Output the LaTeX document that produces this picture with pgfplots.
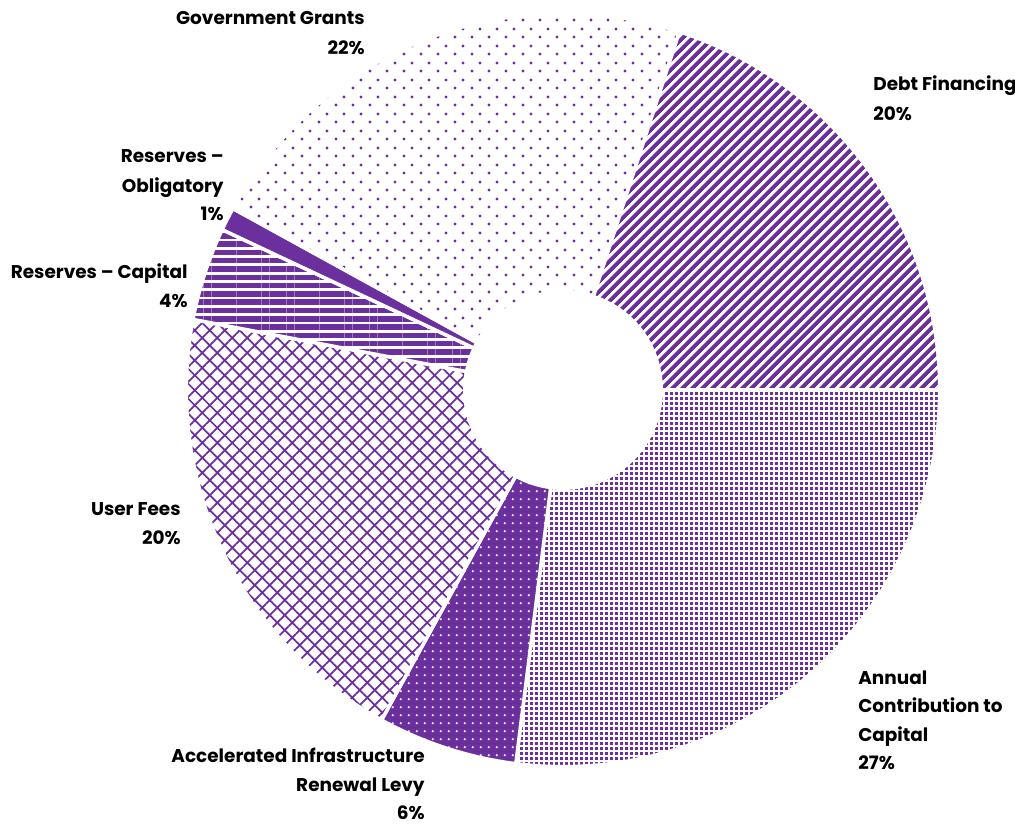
\documentclass[border=0pt]{standalone}
\usepackage{pgfplots}
\pgfplotsset{compat=1.18}
\usepackage{pgfplotstable}
\usetikzlibrary{patterns.meta}
\usepackage{fontspec}
\setmainfont{Poppins}
\definecolor{mypurple}{RGB}{108,48,158}

\tikzdeclarepattern{
  name=gdots, type=uncolored,
  bounding box={(0,0) and (0.33cm,0.33cm)},
  tile size={(0.33cm,0.33cm)},
  code={
    \fill (0.0825cm,0.0825cm) circle[radius=0.034cm];
    \fill (0.2475cm,0.2475cm) circle[radius=0.034cm];
  }
}
\tikzdeclarepattern{
  name=adots, type=uncolored,
  bounding box={(0,0) and (0.1cm,0.1cm)},
  tile size={(0.1cm,0.1cm)},
  code={
    \fill (0.024cm,0.024cm) rectangle (0.076cm,0.076cm);
  }
}
\tikzdeclarepattern{
  name=wdots, type=uncolored,
  bounding box={(0,0) and (0.166cm,0.166cm)},
  tile size={(0.166cm,0.166cm)},
  code={
    \fill (0.083cm,0.083cm) circle[radius=0.026cm];
  }
}

\pgfplotstableread{
label value
Annual 27
Accelerated 6
UserFees 20
ResCapital 4
ResOblig 1
Gov 22
Debt 20
}\slices

\tikzset{
  slice0/.style={pattern=adots, pattern color=mypurple},
  slice1/.style={fill=mypurple, postaction={pattern=wdots, pattern color=white}},
  slice2/.style={pattern={Hatch[angle=45,distance=0.212cm,line width=0.035cm]}, pattern color=mypurple},
  slice3/.style={pattern={Lines[angle=0,distance=0.166cm,line width=0.11cm]}, pattern color=mypurple},
  slice4/.style={fill=mypurple},
  slice5/.style={pattern=gdots, pattern color=mypurple},
  slice6/.style={pattern={Lines[angle=45,distance=0.14cm,line width=0.08cm]}, pattern color=mypurple},
  lab/.style={font=\fontsize{10.5}{12}\selectfont\bfseries, inner sep=0pt, text=black},
}

\begin{document}
\begin{tikzpicture}
\begin{axis}[x=0.02cm, y=0.02cm, xmin=-563, xmax=452, ymin=-435, ymax=390,
  hide axis, clip=false, scale only axis]
\coordinate (BL) at (axis cs:-563,-435);
\coordinate (TR) at (axis cs:452,390);
\def\cum{0}
\pgfplotsforeachungrouped \i in {0,...,6}{%
  \pgfplotstablegetelem{\i}{value}\of\slices
  \pgfmathsetmacro\aone{-3.6*\cum}%
  \pgfmathsetmacro\cum{\cum+\pgfplotsretval}%
  \pgfmathsetmacro\atwo{-3.6*\cum}%
  \edef\doit{\noexpand\path[slice\i, draw=white, line width=0.07cm]
    ([shift={(\aone:7.535cm)}]axis cs:0,0) arc[start angle=\aone, end angle=\atwo, radius=7.535cm]
    -- ([shift={(\atwo:1.965cm)}]axis cs:0,0) arc[start angle=\atwo, end angle=\aone, radius=1.965cm] -- cycle;}%
  \doit
}
% labels
\node[lab, anchor=base east] at (axis cs:-198,365) {Government Grants};
\node[lab, anchor=base east] at (axis cs:-198,335) {22\%};
\node[lab, anchor=base west] at (axis cs:310,299) {Debt Financing};
\node[lab, anchor=base west] at (axis cs:310,269) {20\%};
\node[lab, anchor=base east] at (axis cs:-339,227) {Reserves –};
\node[lab, anchor=base east] at (axis cs:-339,197) {Obligatory};
\node[lab, anchor=base east] at (axis cs:-339,169) {1\%};
\node[lab, anchor=base east] at (axis cs:-375,111) {Reserves – Capital};
\node[lab, anchor=base east] at (axis cs:-375,82) {4\%};
\node[lab, anchor=base east] at (axis cs:-382,-126) {User Fees};
\node[lab, anchor=base east] at (axis cs:-382,-155) {20\%};
\node[lab, anchor=base east] at (axis cs:-138,-373) {Accelerated Infrastructure};
\node[lab, anchor=base east] at (axis cs:-138,-402) {Renewal Levy};
\node[lab, anchor=base east] at (axis cs:-138,-430) {6\%};
\node[lab, anchor=base west] at (axis cs:295,-295) {Annual};
\node[lab, anchor=base west] at (axis cs:295,-323) {Contribution to};
\node[lab, anchor=base west] at (axis cs:295,-352) {Capital};
\node[lab, anchor=base west] at (axis cs:295,-380) {27\%};
\end{axis}
\pgfresetboundingbox
\useasboundingbox (BL) rectangle (TR);
\end{tikzpicture}
\end{document}
